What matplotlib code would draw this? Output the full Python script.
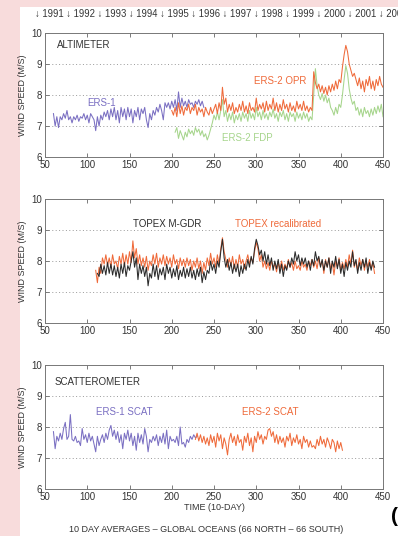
import numpy as np
import matplotlib
matplotlib.use("Agg")
import matplotlib.pyplot as plt
from matplotlib.patches import Rectangle

plt.rcParams['font.family'] = ['Liberation Sans', 'DejaVu Sans']

# ---------------- data (10-day index, wind speed m/s) ----------------
STEP = 2
ers1_alt_start = 60
ers1_alt = [7.4, 7.0, 7.3, 6.95, 7.3, 7.2, 7.4, 7.25, 7.5, 7.2, 7.3, 7.1, 7.3, 7.2, 7.35, 7.15,
            7.3, 7.25, 7.4, 7.2, 7.35, 7.1, 7.4, 7.3, 7.2, 6.85, 7.3, 7.0, 7.35, 7.2, 7.45, 7.3,
            7.5, 7.2, 7.55, 7.3, 7.6, 7.2, 7.5, 7.1, 7.6, 7.3, 7.55, 7.2, 7.6, 7.3, 7.55, 7.1,
            7.5, 7.3, 7.6, 7.2, 7.55, 7.4, 7.6, 7.2, 6.95, 7.4, 7.2, 7.5, 7.35, 7.6, 7.45, 7.7,
            7.5, 7.2, 7.75, 7.6, 7.75, 7.55, 7.8, 7.6, 7.85, 7.5, 8.1, 7.6, 7.9, 7.65, 7.8, 7.6,
            7.85, 7.7, 7.75, 7.6, 7.8, 7.7, 7.85, 7.65, 7.8, 7.6]

ers2_opr_start = 200
ers2_opr = [7.5, 7.35, 7.6, 7.3, 7.75, 7.4, 7.65, 7.35, 7.6, 7.5, 7.7, 7.4, 7.6, 7.5, 7.7, 7.35,
            7.6, 7.45, 7.55, 7.3, 7.6, 7.45, 7.35, 7.6, 7.4, 7.55,
            7.7, 7.4, 7.75, 7.5, 8.25, 7.7, 7.9, 7.45, 7.7, 7.5, 7.75, 7.4, 7.6, 7.45, 7.7, 7.5,
            7.8, 7.45, 7.65, 7.4, 7.75, 7.5, 7.6, 7.45, 7.9, 7.5, 7.7, 7.55, 7.75, 7.45, 7.8, 7.5,
            7.7, 7.55, 7.9, 7.5, 7.75, 7.45, 7.7, 7.5, 7.85, 7.55, 7.7, 7.45, 7.75, 7.5, 7.65, 7.45,
            7.8, 7.55, 7.7, 7.5, 7.8, 7.5, 7.65, 7.45, 7.6, 7.5,
            8.75, 8.4, 8.2, 8.35, 8.1, 8.3, 8.05, 8.25, 8.0, 8.3, 8.1, 8.35, 8.15, 8.45, 8.2, 8.5,
            8.4, 8.9, 9.3, 9.6, 9.4, 9.0, 8.8, 8.6, 8.7, 8.5, 8.3, 8.55, 8.2, 8.45, 8.1, 8.5,
            8.3, 8.6, 8.2, 8.45, 8.15, 8.5, 8.3, 8.6, 8.35, 8.25]

ers2_fdp_start = 204
ers2_fdp = [6.8, 6.95, 6.6, 6.85, 6.7, 6.55, 6.8, 6.65, 6.9, 6.75, 6.85, 6.7, 6.95, 6.8, 6.9, 6.7,
            6.85, 6.65, 6.75, 6.55, 6.7, 6.9, 7.1, 7.35, 7.2, 7.45, 7.2, 7.5, 7.85, 7.3, 7.5, 7.15,
            7.4, 7.2, 7.45, 7.1, 7.35, 7.2, 7.4, 7.15, 7.45, 7.25, 7.4, 7.15, 7.5, 7.25, 7.4, 7.2,
            7.6, 7.3, 7.45, 7.2, 7.5, 7.25, 7.4, 7.2, 7.45, 7.3, 7.55, 7.25, 7.4, 7.15, 7.45, 7.3,
            7.5, 7.2, 7.4, 7.15, 7.45, 7.3, 7.4, 7.15, 7.45, 7.25, 7.4, 7.2, 7.45, 7.25, 7.4, 7.15,
            7.3, 7.2, 8.0, 8.85, 8.3, 8.0, 7.85, 8.05, 7.8, 8.0, 7.75, 7.9, 7.6, 7.5, 7.35, 7.6,
            7.4, 7.7, 7.6, 8.0, 8.5, 8.95, 8.7, 8.2, 7.9, 7.7, 7.8, 7.5, 7.6, 7.35, 7.55, 7.3,
            7.6, 7.4, 7.5, 7.3, 7.55, 7.35, 7.6, 7.4, 7.65, 7.45, 7.7, 7.3]

topex_recal_start = 110
topex_recal = [7.7, 7.3, 7.8, 7.6, 8.1, 7.9, 8.2, 7.85, 8.1, 7.8, 8.2, 7.9, 8.0, 7.75, 8.15, 7.9,
               8.25, 7.85, 8.2, 7.9, 8.3, 7.95, 8.65, 8.1, 8.4, 7.9, 8.2, 7.85, 8.1, 7.8, 8.15, 7.7,
               8.0, 7.85, 8.2, 7.9, 8.25, 7.8, 8.1, 7.9, 8.2, 7.85, 8.15, 7.9, 8.1, 7.8, 8.2, 7.9,
               8.05, 7.75, 8.1, 7.85, 8.05, 7.8, 8.1, 7.85, 8.05, 7.7, 8.0, 7.8, 8.1, 7.75, 8.0, 7.6,
               7.95, 7.7, 8.1, 7.85, 8.25, 7.9, 8.1, 7.8, 8.2, 7.9, 8.4, 8.75, 8.3, 8.05, 7.8, 8.1,
               7.85, 8.15, 7.75, 8.05, 7.8, 8.2, 7.9, 8.05, 7.75, 8.0, 8.2, 7.9, 8.1, 7.95, 8.3, 8.6,
               8.4, 8.0, 8.2, 7.8, 8.0, 7.75, 7.95, 7.7, 8.0, 7.8, 7.9, 7.65, 7.95, 7.75, 8.0, 7.7,
               7.9, 7.75, 8.05, 7.8, 7.95, 7.7, 8.0, 7.75, 7.85, 7.7, 8.0, 7.8, 7.9, 7.7, 8.0, 7.85,
               8.05, 7.8, 8.0, 7.75, 8.1, 7.85, 8.0, 7.6, 8.05, 7.8, 8.1, 7.75, 7.95, 7.55, 8.0, 7.8,
               8.1, 7.7, 7.95, 7.75, 8.05, 7.8, 8.2, 7.9, 8.35, 7.8, 8.0, 7.7, 8.1, 7.85, 8.05, 7.7,
               8.0, 7.8, 8.05, 7.75, 7.95, 7.6]

topex_mgdr_start = 112
topex_mgdr = [7.6, 7.5, 7.9, 7.6, 7.85, 7.55, 7.95, 7.6, 7.9, 7.55, 7.85, 7.5, 7.8, 7.45, 7.9, 7.6,
              7.95, 7.5, 7.85, 7.7, 8.0, 8.3, 7.8, 8.1, 7.4, 7.9, 7.6, 7.85, 7.5, 7.8, 7.2, 7.6,
              7.45, 7.9, 7.5, 7.85, 7.4, 7.75, 7.55, 7.8, 7.4, 7.9, 7.6, 7.8, 7.45, 7.75, 7.5, 7.85,
              7.4, 7.7, 7.5, 7.8, 7.45, 7.75, 7.5, 7.8, 7.45, 7.7, 7.4, 7.75, 7.5, 7.8, 7.3, 7.65,
              7.4, 7.7, 7.6, 8.0, 7.7, 7.9, 7.6, 8.0, 7.8, 8.3, 8.7, 8.1, 7.8, 8.05, 7.7, 7.95,
              7.6, 7.9, 7.65, 7.9, 7.5, 7.85, 7.6, 7.9, 7.7, 8.05, 7.8, 8.15, 7.9, 8.4, 8.7, 8.5,
              8.2, 8.35, 8.0, 8.3, 7.9, 8.2, 7.85, 8.1, 7.7, 8.0, 7.75, 8.05, 7.6, 7.9, 7.5, 7.85,
              7.7, 8.0, 7.8, 8.1, 7.9, 8.3, 8.0, 8.2, 7.85, 8.1, 7.9, 8.1, 7.8, 8.0, 7.7, 8.05,
              7.85, 8.3, 8.0, 8.15, 7.8, 8.05, 7.7, 8.0, 7.8, 8.1, 7.6, 8.0, 7.8, 8.15, 7.75, 8.05,
              7.6, 7.9, 7.5, 7.95, 7.7, 8.0, 7.8, 8.3, 7.85, 8.05, 7.6, 7.95, 7.7, 8.05, 7.8, 8.1,
              7.6, 7.95, 7.7, 8.0, 7.8]

ers1_scat_start = 60
ers1_scat = [7.85, 7.3, 7.7, 7.55, 7.8, 7.6, 7.95, 8.15, 7.6, 7.7, 8.4, 7.6, 7.55, 7.7, 7.5, 7.55,
             7.4, 7.95, 7.6, 7.75, 7.5, 7.8, 7.55, 7.7, 7.45, 7.2, 7.7, 7.4, 7.6, 7.75, 7.5, 7.8,
             7.6, 7.9, 8.05, 7.7, 7.9, 7.6, 7.85, 7.5, 7.75, 7.3, 7.8, 7.6, 7.9, 7.55, 7.8, 7.4,
             7.7, 7.25, 7.8, 7.5, 7.75, 7.45, 7.95, 7.7, 7.2, 7.6, 7.5, 7.7, 7.55, 7.75, 7.4, 7.7,
             7.5, 7.8, 7.45, 7.9, 7.3, 7.7, 7.55, 7.6, 7.5, 7.7, 7.4, 8.0, 7.45, 7.5, 7.35, 7.6,
             7.5, 7.7, 7.6, 7.75, 7.65, 7.7]

ers2_scat_start = 228
ers2_scat = [7.6, 7.8, 7.55, 7.75, 7.5, 7.7, 7.45, 7.65, 7.4, 7.75, 7.5, 7.7, 7.35, 7.8, 7.55, 7.75,
             7.3, 7.65, 7.45, 7.1, 7.6, 7.8, 7.5, 7.7, 7.4, 7.75, 7.5, 7.6, 7.25, 7.7, 7.5, 7.8,
             7.4, 7.65, 7.2, 7.7, 7.5, 7.85, 7.6, 7.75, 7.45, 7.7, 7.6, 7.9, 7.95, 7.7, 7.85, 7.5,
             7.75, 7.45, 7.7, 7.5, 7.65, 7.35, 7.7, 7.55, 7.8, 7.4, 7.65, 7.5, 7.75, 7.45, 7.6, 7.3,
             7.7, 7.5, 7.6, 7.35, 7.55, 7.35, 7.4, 7.3, 7.6, 7.4, 7.7, 7.45, 7.6, 7.35, 7.65, 7.5,
             7.3, 7.6, 7.5, 7.2, 7.55, 7.3, 7.5, 7.25]

years = ["1991", "1992", "1993", "1994", "1995", "1996", "1997", "1998", "1999", "2000", "2001", "2002"]
x_ticks = [50, 100, 150, 200, 250, 300, 350, 400, 450]
y_ticks = [6, 7, 8, 9, 10]

PURPLE = '#7a6fc2'
ORANGE = '#ef6a3a'
GREEN = '#a6d58c'
BLACK = '#2b2b2b'
PINK = '#f8dcdc'
TXT = '#333333'


def xs(start, vals):
    return np.arange(start, start + STEP * len(vals), STEP)[:len(vals)]


fig = plt.figure(figsize=(3.98, 5.36), dpi=100)
fig.patch.set_facecolor(PINK)
bg = Rectangle((20 / 398, 0), 1 - 20 / 398, 1 - 7 / 536,
               transform=fig.transFigure, facecolor='white', edgecolor='none', zorder=-10)
fig.patches.append(bg)

L, W, H = 45 / 398, 338 / 398, 124 / 536
bottoms = [(536 - 157) / 536, (536 - 323) / 536, (536 - 489) / 536]
axes = [fig.add_axes([L, b, W, H], zorder=1) for b in bottoms]

for ax in axes:
    ax.set_xlim(50, 450)
    ax.set_ylim(6, 10)
    ax.set_xticks(x_ticks)
    ax.set_yticks(y_ticks)
    ax.tick_params(direction='in', length=3, width=0.6, colors='#666666',
                   labelcolor=TXT, labelsize=7, top=True, right=True, pad=2)
    for s in ax.spines.values():
        s.set_color('#777777')
        s.set_linewidth(0.7)
    for yv in [7, 8, 9]:
        ax.axhline(yv, color='#999999', linestyle=(0, (1, 2.5)), linewidth=0.7, zorder=0)
    ax.set_ylabel('WIND SPEED (M/S)', fontsize=6.5, color=TXT, labelpad=3)
    ax.set_facecolor('white')

lw = 0.75
a1, a2, a3 = axes
a1.plot(xs(ers1_alt_start, ers1_alt), ers1_alt, color=PURPLE, lw=lw)
a1.plot(xs(ers2_fdp_start, ers2_fdp), ers2_fdp, color=GREEN, lw=lw)
a1.plot(xs(ers2_opr_start, ers2_opr), ers2_opr, color=ORANGE, lw=lw)
a1.text(64, 9.61, 'ALTIMETER', fontsize=7, color=TXT, va='center', ha='left')
a1.text(117, 7.73, 'ERS-1', fontsize=7, color=PURPLE, va='center', ha='center')
a1.text(328, 8.45, 'ERS-2 OPR', fontsize=7, color=ORANGE, va='center', ha='center')
a1.text(290, 6.6, 'ERS-2 FDP', fontsize=7, color=GREEN, va='center', ha='center')

a2.plot(xs(topex_recal_start, topex_recal), topex_recal, color=ORANGE, lw=lw)
a2.plot(xs(topex_mgdr_start, topex_mgdr), topex_mgdr, color=BLACK, lw=lw)
a2.text(195, 9.19, 'TOPEX M-GDR', fontsize=7, color=BLACK, va='center', ha='center')
a2.text(326, 9.19, 'TOPEX recalibrated', fontsize=7, color=ORANGE, va='center', ha='center')

a3.plot(xs(ers1_scat_start, ers1_scat), ers1_scat, color=PURPLE, lw=lw)
a3.plot(xs(ers2_scat_start, ers2_scat), ers2_scat, color=ORANGE, lw=lw)
a3.text(61, 9.46, 'SCATTEROMETER', fontsize=7, color=TXT, va='center', ha='left')
a3.text(144, 8.47, 'ERS-1 SCAT', fontsize=7, color=PURPLE, va='center', ha='center')
a3.text(316, 8.47, 'ERS-2 SCAT', fontsize=7, color=ORANGE, va='center', ha='center')
a3.set_xlabel('TIME (10-DAY)', fontsize=6.5, color=TXT, labelpad=1)

year_str = ' '.join('\u2193 ' + y for y in years)
fig.text(35 / 398, 1 - 14 / 536, year_str, fontsize=6.85, color=TXT, ha='left', va='center',
         family=['DejaVu Sans'] if False else ['Liberation Sans', 'DejaVu Sans'])
fig.text(206 / 398, 1 - 530 / 536, '10 DAY AVERAGES \u2013 GLOBAL OCEANS (66 NORTH \u2013 66 SOUTH)',
         fontsize=6.5, color=TXT, ha='center', va='center')
fig.text(391 / 398, 1 - 517 / 536, '(', fontsize=15, color='black', ha='left', va='center',
         fontweight='bold')

fig.savefig('out.png', dpi=100, facecolor=fig.get_facecolor())
